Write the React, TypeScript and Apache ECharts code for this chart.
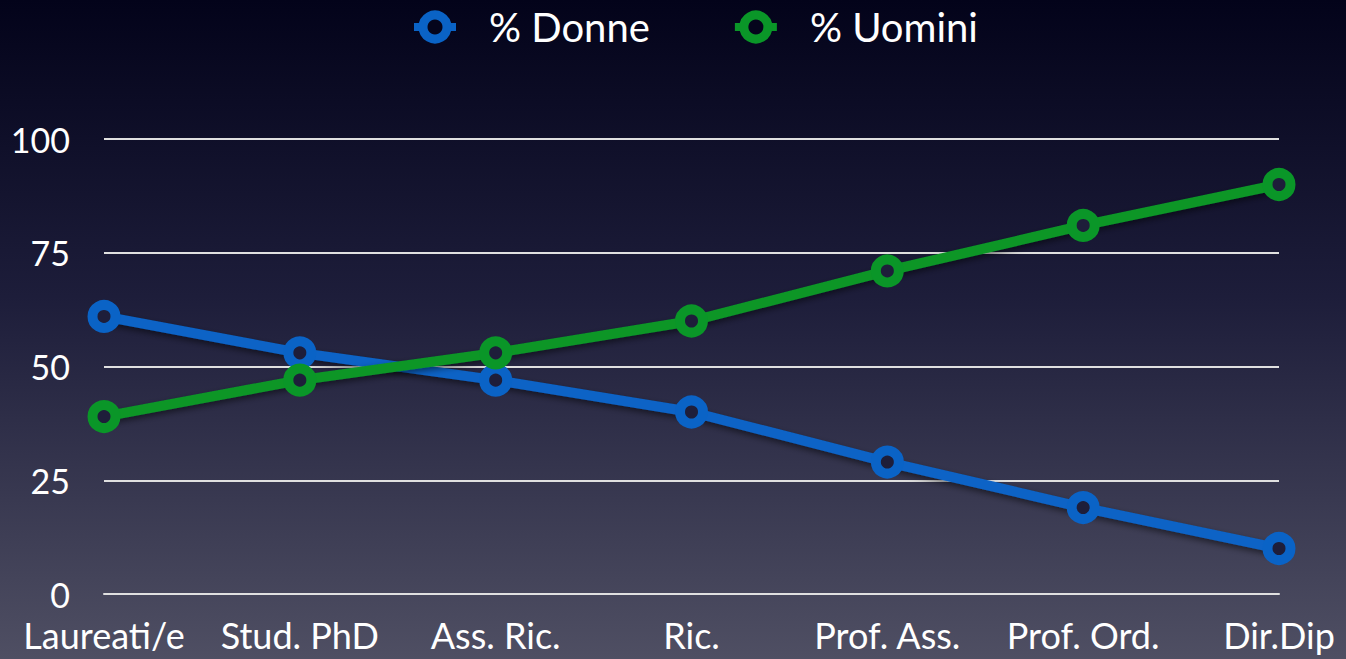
import React, { useEffect, useRef } from "react";
import * as echarts from "echarts";

const categories = ["Laureati/e", "Stud. PhD", "Ass. Ric.", "Ric.", "Prof. Ass.", "Prof. Ord.", "Dir.Dip"];
const donne = [61, 53, 47, 40, 29, 19, 10];
const uomini = [39, 47, 53, 60, 71, 81, 90];
const seriesNames = ["% Donne", "% Uomini"];

const FONT = "Lato, 'Open Sans', sans-serif";

export default function App() {
  const ref = useRef<HTMLDivElement>(null);
  useEffect(() => {
    if (!ref.current) return;
    const chart = echarts.init(ref.current, undefined, { renderer: "svg" });
    const mkSeries = (name: string, data: number[], color: string) => ({
      name,
      type: "line",
      data,
      symbol: "circle",
      symbolSize: 23,
      lineStyle: { color, width: 10, shadowColor: "rgba(0,0,0,0.5)", shadowBlur: 6, shadowOffsetY: 3 },
      itemStyle: { color: "#1e1e3a", borderColor: color, borderWidth: 10 },
      emphasis: { disabled: true },
    });
    chart.setOption({
      animation: false,
      backgroundColor: {
        type: "linear",
        x: 0, y: 0, x2: 0, y2: 1,
        colorStops: [
          { offset: 0, color: "#03031a" },
          { offset: 0.45, color: "#1d1d3a" },
          { offset: 1, color: "#4f4f63" },
        ],
      },
      legend: {
        top: 2,
        left: 405,
        itemWidth: 42,
        itemHeight: 30,
        itemGap: 81,
        lineStyle: { width: 8 },
        itemStyle: { borderWidth: 9, color: "#05051c" },
        textStyle: { color: "#ffffff", fontSize: 40, fontFamily: FONT, padding: [0, 0, 0, 28] },
        data: seriesNames,
      },
      grid: { left: 104, right: 67, top: 139, bottom: 65, containLabel: false },
      xAxis: {
        type: "category",
        data: categories,
        boundaryGap: false,
        axisLine: { show: true, lineStyle: { color: "#e0e0e0", width: 2 } },
        axisTick: { show: false },
        axisLabel: { color: "#ffffff", fontSize: 36, fontFamily: FONT, margin: 23, interval: 0 },
        splitLine: { show: false },
      },
      yAxis: {
        type: "value",
        min: 0,
        max: 100,
        interval: 25,
        axisLine: { show: false },
        axisTick: { show: false },
        axisLabel: { color: "#ffffff", fontSize: 34, fontFamily: FONT, margin: 34 },
        splitLine: { lineStyle: { color: "#e0e0e0", width: 2 } },
      },
      series: [mkSeries(seriesNames[0], donne, "#0a63c6"), mkSeries(seriesNames[1], uomini, "#0a9628")],
    });
    return () => chart.dispose();
  }, []);
  return <div ref={ref} style={{ width: 1346, height: 659, position: "fixed", left: 0, top: 0 }} />;
}
